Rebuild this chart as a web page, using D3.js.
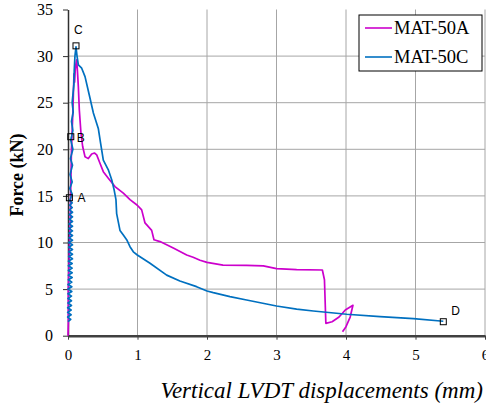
<!DOCTYPE html>
<html>
<head>
<meta charset="utf-8">
<script src="https://cdn.jsdelivr.net/npm/d3@7"></script>
<style>
  body { margin: 0; background: #fff; }
  svg { display: block; }
</style>
</head>
<body>
<div id="chart"></div>
<script>
// MAT-50A (magenta)
const mat50aX = [0, 0.005, 0.005, 0.03, 0.05, 0.07, 0.086, 0.095, 0.105, 0.115, 0.125, 0.135, 0.149, 0.163, 0.187, 0.211, 0.245, 0.292, 0.341, 0.38, 0.413, 0.46, 0.508, 0.58, 0.676, 0.796, 0.892, 0.997, 1.06, 1.108, 1.204, 1.237, 1.324, 1.515, 1.708, 1.8, 1.9, 2.0, 2.23, 2.57, 2.81, 3.0, 3.29, 3.66, 3.69, 3.71, 3.8, 3.9, 3.99, 4.1, 4.06, 4.0, 3.95];
const mat50aY = [0, 1.4, 5, 12, 20, 24, 28.1, 27.2, 28.6, 29.2, 29.6, 28.5, 26.7, 24.2, 21.7, 20.3, 19.2, 19.0, 19.5, 19.6, 19.4, 18.5, 17.6, 16.9, 16.0, 15.3, 14.6, 14.0, 13.5, 12.1, 11.3, 10.3, 10.1, 9.4, 8.66, 8.41, 8.1, 7.87, 7.58, 7.55, 7.5, 7.2, 7.1, 7.05, 6.0, 1.33, 1.5, 2.0, 2.76, 3.26, 2.0, 0.97, 0.43];

// MAT-50C (blue) - dense loading cycles near zero, then softening branch
const mat50cX = [
  0.0, 0.04, -0.005, 0.045, -0.005, 0.045, -0.005, 0.05, 0.0, 0.05, 0.0, 0.05, 0.0, 0.055, 0.0, 0.055,
  0.0, 0.055, 0.005, 0.06, 0.005, 0.06, 0.005, 0.06, 0.005, 0.06, 0.005, 0.065, 0.01, 0.065, 0.01, 0.065,
  0.01, 0.065, 0.01, 0.065, 0.015, 0.065, 0.015, 0.065, 0.015, 0.065, 0.015, 0.065, 0.02, 0.065, 0.02, 0.065,
  0.02, 0.06, 0.025, 0.06, 0.025,
  0.06, 0.025, 0.06, 0.03, 0.065, 0.035, 0.07, 0.04, 0.07, 0.05, 0.075, 0.06, 0.085, 0.09, 0.1, 0.115,
  0.13, 0.149, 0.197, 0.245, 0.307, 0.365, 0.437, 0.47, 0.508, 0.58, 0.63, 0.665, 0.69, 0.7, 0.748, 0.796, 0.844, 0.892, 0.94, 0.997,
  1.18, 1.42, 1.61, 1.85, 2.0, 2.09, 2.33, 2.57, 3.0, 3.29, 3.53, 4.01, 4.49, 4.97, 5.4];
const mat50cY = [
  1.5, 1.75, 2.0, 2.25, 2.5, 2.75, 3.0, 3.25, 3.5, 3.75, 4.0, 4.25, 4.5, 4.75, 5.0, 5.25,
  5.5, 5.75, 6.0, 6.25, 6.5, 6.75, 7.0, 7.25, 7.5, 7.75, 8.0, 8.25, 8.5, 8.75, 9.0, 9.25,
  9.5, 9.75, 10.0, 10.25, 10.5, 10.75, 11.0, 11.25, 11.5, 11.75, 12.0, 12.25, 12.5, 12.75, 13.0, 13.25,
  13.5, 13.75, 14.0, 14.25, 14.5,
  15.2, 15.8, 16.5, 17.3, 18.3, 19, 20, 21, 22, 23, 24, 25, 27, 28.5, 30, 31,
  30, 29.05, 28.7, 27.8, 25.8, 23.9, 22.2, 20.6, 18.85, 17.8, 16.7, 15.6, 14.6, 13.1, 11.3, 10.8, 10.3, 9.55, 9.0, 8.66,
  7.77, 6.5, 5.87, 5.26, 4.8, 4.62, 4.19, 3.83, 3.19, 2.86, 2.65, 2.3, 2.04, 1.83, 1.55];

// labelled points
const markerNames = ['A', 'B', 'C', 'D'];
const markerX = [0.02, 0.04, 0.115, 5.4];
const markerY = [14.8, 21.35, 31.1, 1.5];

const xTicks = [0, 1, 2, 3, 4, 5, 6];
const yTicks = [0, 5, 10, 15, 20, 25, 30, 35];
const seriesNames = ['MAT-50A', 'MAT-50C'];
const seriesColors = ['#CC00CC', '#0070C0'];

const margin = { top: 9.5, right: 1, bottom: 73.3, left: 68 };
const width = 486 - margin.left - margin.right;
const height = 409 - margin.top - margin.bottom;
const serif = '"Liberation Serif", "Times New Roman", serif';

const svgRoot = d3.select('#chart').append('svg')
  .attr('width', 486)
  .attr('height', 409);

const svg = svgRoot.append('g')
  .attr('transform', `translate(${margin.left},${margin.top})`);

const x = d3.scaleLinear().domain([0, 6]).range([0, width]);
const y = d3.scaleLinear().domain([0, 35]).range([height, 0]);

// grid
svg.append('g')
  .selectAll('line')
  .data(xTicks.filter(d => d > 0))
  .enter().append('line')
  .attr('x1', d => x(d)).attr('x2', d => x(d))
  .attr('y1', 0).attr('y2', height)
  .attr('stroke', '#a6a6a6').attr('stroke-width', 1);

svg.append('g')
  .selectAll('line')
  .data(yTicks.filter(d => d > 0 && d < 35))
  .enter().append('line')
  .attr('x1', 0).attr('x2', width)
  .attr('y1', d => y(d)).attr('y2', d => y(d))
  .attr('stroke', '#a6a6a6').attr('stroke-width', 1);

// axes
const xAxis = svg.append('g')
  .attr('transform', `translate(0,${height})`)
  .attr('font-family', serif)
  .call(d3.axisBottom(x).tickValues(xTicks).tickFormat(d3.format('d')).tickSize(4).tickSizeOuter(0).tickPadding(10));
xAxis.select('.domain').attr('stroke', '#404040').attr('stroke-width', 2.5);
xAxis.selectAll('.tick line').attr('stroke', '#404040');
xAxis.selectAll('text').attr('font-family', serif).attr('font-size', 15).attr('fill', '#000');

const yAxis = svg.append('g')
  .attr('font-family', serif)
  .call(d3.axisLeft(y).tickValues(yTicks).tickSize(5).tickSizeOuter(0).tickPadding(10));
yAxis.select('.domain').attr('stroke', '#303030').attr('stroke-width', 1.5);
yAxis.selectAll('.tick line').attr('stroke', '#303030');
yAxis.selectAll('text').attr('font-family', serif).attr('font-size', 16).attr('fill', '#000');

// series
const line = d3.line().x(d => x(d[0])).y(d => y(d[1]));
const series = [
  d3.zip(mat50aX, mat50aY),
  d3.zip(mat50cX, mat50cY)
];
series.forEach((pts, i) => {
  svg.append('path')
    .datum(pts)
    .attr('fill', 'none')
    .attr('stroke', seriesColors[i])
    .attr('stroke-width', 1.7)
    .attr('stroke-linejoin', 'round')
    .attr('d', line);
});

// markers A-D
const markerOffsets = [[8, 4], [6, 5], [-2, -12], [8, -7]];
markerNames.forEach((name, i) => {
  svg.append('rect')
    .attr('x', x(markerX[i]) - 3)
    .attr('y', y(markerY[i]) - 3)
    .attr('width', 6).attr('height', 6)
    .attr('fill', 'none')
    .attr('stroke', '#000')
    .attr('stroke-width', 1);
  svg.append('text')
    .attr('x', x(markerX[i]) + markerOffsets[i][0])
    .attr('y', y(markerY[i]) + markerOffsets[i][1])
    .attr('font-family', '"Liberation Sans", Arial, sans-serif')
    .attr('font-size', 12)
    .text(name);
});

// legend
const legend = svgRoot.append('g').attr('transform', 'translate(359,15)');
legend.append('rect')
  .attr('width', 123).attr('height', 56)
  .attr('fill', '#fff').attr('stroke', '#000').attr('stroke-width', 1);
seriesNames.forEach((name, i) => {
  const ly = 13 + i * 29;
  legend.append('line')
    .attr('x1', 6).attr('x2', 33)
    .attr('y1', ly).attr('y2', ly)
    .attr('stroke', seriesColors[i]).attr('stroke-width', 1.6);
  legend.append('text')
    .attr('x', 35).attr('y', ly + 6.3)
    .attr('font-family', serif)
    .attr('font-size', 18.5)
    .text(name);
});

// axis titles
svgRoot.append('text')
  .attr('transform', 'translate(23,175) rotate(-90)')
  .attr('text-anchor', 'middle')
  .attr('font-family', serif)
  .attr('font-weight', 'bold')
  .attr('font-size', 18)
  .text('Force (kN)');

svgRoot.append('text')
  .attr('x', 483).attr('y', 398)
  .attr('text-anchor', 'end')
  .attr('font-family', serif)
  .attr('font-style', 'italic')
  .attr('font-size', 23)
  .text('Vertical LVDT displacements (mm)');
</script>
</body>
</html>
